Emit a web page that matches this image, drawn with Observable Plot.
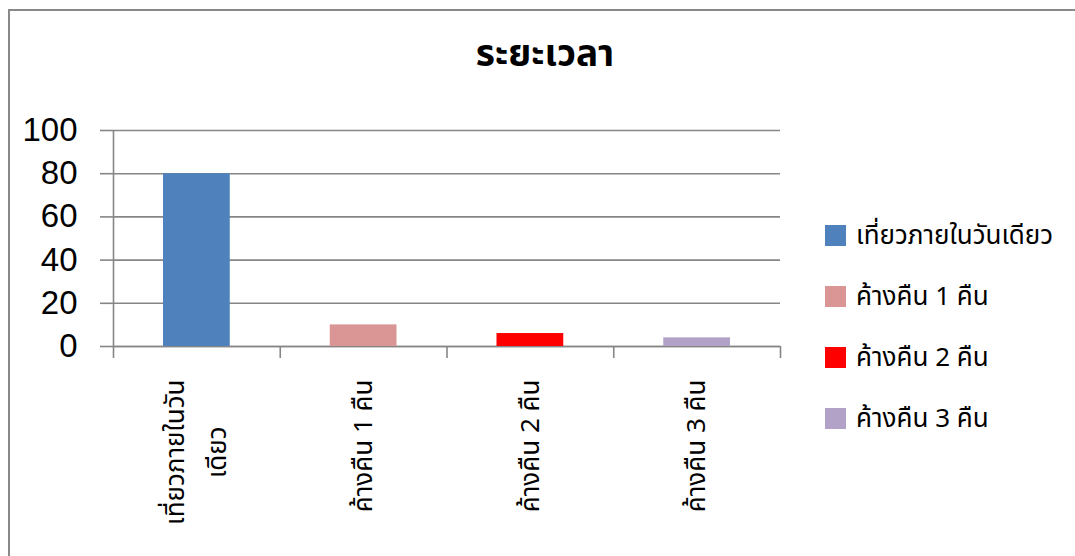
<!DOCTYPE html>
<html>
<head>
<meta charset="utf-8">
<script src="https://cdn.jsdelivr.net/npm/d3@7"></script>
<script src="https://cdn.jsdelivr.net/npm/@observablehq/plot@0.6"></script>
<style>
  html, body { margin: 0; padding: 0; background: #fff; overflow: hidden; }
  #wrap { position: relative; width: 1075px; height: 556px; overflow: hidden; }
  #frame { position: absolute; left: 8px; top: 9px; width: 1100px; height: 600px; border: 2px solid #898989; box-sizing: border-box; }
  #chart { position: absolute; left: 0; top: 0; }
  #title { position: absolute; left: 0; width: 1090px; top: 33px; text-align: center;
           font: bold 37px "Noto Sans Thai", Tahoma, "Noto Sans", "DejaVu Sans", sans-serif; color: #000; line-height: 1.2; }
  #legend { position: absolute; left: 825px; top: 225px;
            font: 26px "Noto Sans Thai", Tahoma, "Noto Sans", "DejaVu Sans", sans-serif; color: #000; }
  .item { display: flex; align-items: center; height: 21px; margin-bottom: 40px; white-space: nowrap; }
  .sw { width: 21px; height: 21px; margin-right: 10px; flex: none; }
</style>
</head>
<body>
<div id="wrap">
  <div id="frame"></div>
  <div id="chart"></div>
  <div id="title"></div>
  <div id="legend"></div>
</div>
<script>
const title = "ระยะเวลา";
const categories = ["เที่ยวภายในวันเดียว", "ค้างคืน 1 คืน", "ค้างคืน 2 คืน", "ค้างคืน 3 คืน"];
const axisLabels = ["เที่ยวภายในวัน\nเดียว", "ค้างคืน 1 คืน", "ค้างคืน 2 คืน", "ค้างคืน 3 คืน"];
const values = [80, 10, 6, 4];
const colors = ["#4F81BD", "#D99694", "#FF0000", "#B3A2C7"];
const yTicks = [0, 20, 40, 60, 80, 100];

const rows = categories.map((c, i) => ({category: c, label: axisLabels[i], index: i, value: values[i]}));
const boundaries = d3.range(categories.length + 1);
const thaiFont = '"Noto Sans Thai", Tahoma, "Noto Sans", "DejaVu Sans", sans-serif';
const gridColor = "#868686";

const plot = Plot.plot({
  width: 1075,
  height: 556,
  marginLeft: 113,
  marginRight: 295,
  marginTop: 130,
  marginBottom: 210,
  style: {background: "transparent", color: "#000", overflow: "visible"},
  x: {domain: [0, categories.length], axis: null},
  y: {domain: [0, 100], axis: null},
  color: {domain: categories, range: colors},
  marks: [
    Plot.gridY(yTicks, {stroke: gridColor, strokeOpacity: 1, strokeWidth: 1.6}),
    Plot.axisY(yTicks, {tickSize: 13, tickPadding: 23, fontSize: 33, fontFamily: "Liberation Sans, Arial, sans-serif",
      stroke: gridColor, strokeWidth: 1.6, fill: "#000", label: null}),
    Plot.axisX(boundaries, {tickSize: 12, tickFormat: () => "", stroke: gridColor, strokeWidth: 1.6, label: null}),
    Plot.ruleX([0], {stroke: gridColor, strokeWidth: 1.6}),
    Plot.ruleY([0], {stroke: gridColor, strokeWidth: 1.6}),
    Plot.rectY(rows, {x1: "index", x2: d => d.index + 1, y: "value", fill: "category", insetLeft: 50, insetRight: 50}),
    Plot.text(rows, {x: d => d.index + 0.5, frameAnchor: "bottom", text: "label", rotate: -90,
      textAnchor: "end", lineAnchor: "middle", dx: -5, dy: 33, fontSize: 26, lineHeight: 1.6,
      fontFamily: thaiFont, fill: "#000"})
  ]
});
document.getElementById("chart").appendChild(plot);

// center the wrapped lines of a multi-line category label on its longest line
d3.select(plot).selectAll('g[aria-label="text"] text').each(function() {
  const ts = d3.select(this).selectAll("tspan");
  if (ts.size() < 2) return;
  const lens = ts.nodes().map(n => n.getComputedTextLength());
  const m = d3.max(lens);
  ts.attr("x", (d, i) => -(m - lens[i]) / 2);
});

d3.select("#title").text(title);

const color = plot.scale("color");
const leg = d3.select("#legend");
color.domain.forEach((c, i) => {
  const it = leg.append("div").attr("class", "item");
  it.append("div").attr("class", "sw").style("background", color.range[i]);
  it.append("span").text(c);
});
</script>
</body>
</html>
